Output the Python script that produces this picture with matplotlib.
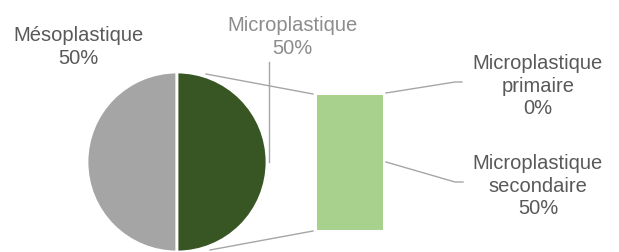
import matplotlib.pyplot as plt
import numpy as np

plt.rcParams['font.family'] = ['Liberation Sans', 'DejaVu Sans']

pie_labels = ['Mésoplastique', 'Microplastique']
pie_values = [50, 50]
pie_colors = ['#A5A5A5', '#375623']

bar_labels = ['Microplastique\nsecondaire', 'Microplastique\nprimaire']
bar_values = [50, 0]
bar_color = '#A9D18E'

txt = '#595959'
line_c = '#A6A6A6'

fig = plt.figure(figsize=(6.19, 2.53), dpi=100)
ax = fig.add_axes([0, 0, 1, 1])

H = 253
cx, cy, r = 177, H - 163, 90
ax.pie(pie_values, colors=pie_colors, startangle=90, center=(cx, cy), radius=r,
       wedgeprops=dict(edgecolor='white', linewidth=2), frame=True)
ax.set_xlim(0, 619)
ax.set_ylim(0, 253)
ax.set_aspect('equal')
ax.axis('off')

# bar of pie (scaled to 135 px for 50%)
scale = 135 / sum(bar_values)
bx, bw = 350, 66
bottom = H - 231
for v in bar_values:
    ax.bar(bx, v * scale, width=bw, bottom=bottom, color=bar_color, edgecolor='none')
    bottom += v * scale

# connector lines
ax.plot([206, 313], [H - 75, H - 95], color=line_c, lw=1)
ax.plot([210, 313], [H - 251, H - 232], color=line_c, lw=1)

# labels
fs = 14.5
ls = 1.22
ax.text(78, H - 47, f'{pie_labels[0]}\n{pie_values[0]}%', ha='center', va='center',
        fontsize=fs, color=txt, linespacing=ls)
ax.text(292, H - 37, f'{pie_labels[1]}\n{pie_values[1]}%', ha='center', va='center',
        fontsize=fs, color='#8C8C8C', linespacing=ls)
ax.plot([269, 269], [H - 63, H - 163], color=line_c, lw=1)

ax.text(538, H - 86, f'{bar_labels[1]}\n{bar_values[1]}%', ha='center', va='center',
        fontsize=fs, color=txt, linespacing=ls)
ax.plot([386, 455, 462], [H - 94, H - 83, H - 83], color=line_c, lw=1)

ax.text(538, H - 186, f'{bar_labels[0]}\n{bar_values[0]}%', ha='center', va='center',
        fontsize=fs, color=txt, linespacing=ls)
ax.plot([386, 455, 463], [H - 163, H - 183, H - 183], color=line_c, lw=1)

fig.savefig('out.png', dpi=100)
